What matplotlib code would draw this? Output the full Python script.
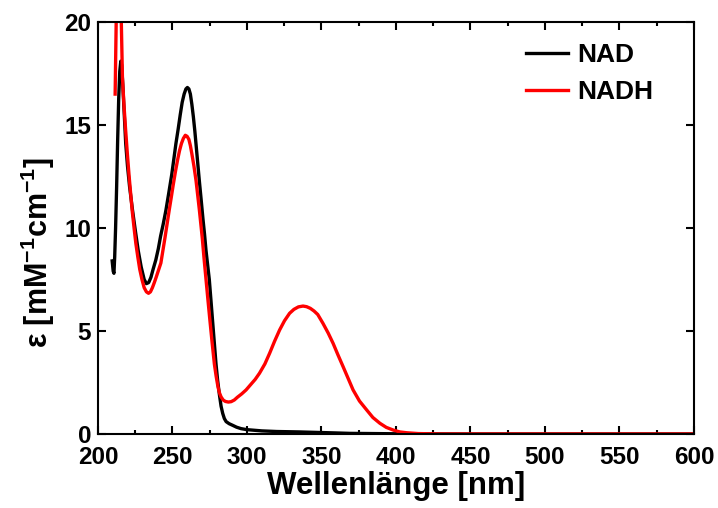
import matplotlib
matplotlib.use("Agg")
import matplotlib.pyplot as plt
from matplotlib.ticker import MultipleLocator

plt.rcParams['font.family'] = ['Liberation Sans', 'DejaVu Sans']
plt.rcParams['font.weight'] = 'bold'
plt.rcParams['mathtext.fontset'] = 'custom'
plt.rcParams['mathtext.bf'] = 'Liberation Sans:bold'
plt.rcParams['mathtext.rm'] = 'Liberation Sans:bold'
plt.rcParams['mathtext.default'] = 'bf'

# NAD (black)
nad_wl = [209.5, 210.2, 210.7, 211.2, 211.8, 212.5, 213.2, 213.9, 214.6, 215.3,
          215.9, 216.6, 217.5, 218.6, 219.8, 221.2, 223.1, 225.0, 227.0, 229.0,
          231.0, 232.5, 234.0, 235.5, 237.0, 238.8, 240.5, 242.0, 243.8, 245.6,
          247.5, 249.5, 251.0, 252.3, 253.8, 255.2, 256.5, 257.8, 259.0, 260.0,
          261.0, 262.0, 263.0, 264.0, 265.0, 266.0, 267.0, 268.0, 269.2, 270.5,
          271.5, 272.5, 273.6, 274.7, 275.8, 277.0, 278.1, 279.2, 280.3, 281.5,
          282.6, 283.7, 284.8, 286.0, 288.0, 290.4, 293.0, 296.0, 300.0, 305.0,
          310.0, 320.0, 335.0, 350.0, 360.0, 369.0, 385.0, 400.0, 450.0, 600.0]
nad_eps = [8.4, 7.9, 7.8, 8.6, 10.0, 12.0, 14.3, 16.3, 17.6, 18.1,
           17.9, 17.0, 15.7, 14.1, 13.0, 12.0, 10.9, 9.9, 8.9, 8.1,
           7.5, 7.3, 7.35, 7.6, 8.0, 8.45, 9.0, 9.6, 10.2, 10.87,
           11.7, 12.6, 13.4, 14.1, 14.8, 15.5, 16.1, 16.5, 16.75, 16.82,
           16.75, 16.5, 16.0, 15.4, 14.7, 13.9, 13.1, 12.3, 11.4, 10.4,
           9.7, 8.9, 8.2, 7.5, 6.5, 5.4, 4.4, 3.4, 2.6, 1.9,
           1.35, 1.0, 0.75, 0.6, 0.5, 0.42, 0.33, 0.26, 0.21, 0.18,
           0.15, 0.12, 0.1, 0.07, 0.05, 0.03, 0.02, 0.01, 0.0, 0.0]

# NADH (red)
nadh_wl = [211.5, 211.9, 212.3, 212.8, 213.5, 214.3, 215.0, 215.7, 216.4, 217.4,
           218.5, 219.7, 220.9, 222.0, 223.0, 224.2, 225.4, 226.7, 228.0, 229.5,
           231.0, 232.5, 233.9, 235.2, 236.5, 237.8, 239.0, 240.6, 242.2, 245.0,
           247.8, 249.2, 250.5, 252.0, 253.4, 254.7, 256.0, 257.3, 258.6, 259.8,
           261.0, 262.0, 263.0, 264.4, 265.8, 266.9, 268.0, 269.0, 270.0, 271.2,
           272.5, 273.8, 275.0, 276.5, 278.1, 279.3, 280.5, 281.5, 282.6, 284.0,
           285.5, 287.5, 289.4, 291.5, 293.5, 296.5, 299.4, 302.5, 305.5, 308.4,
           312.0, 315.2, 318.5, 321.9, 325.2, 328.6, 331.5, 334.5, 337.6, 340.0,
           342.5, 345.0, 347.5, 351.0, 354.5, 357.8, 361.0, 364.5, 368.0, 371.2,
           375.5, 380.3, 384.5, 389.2, 393.5, 398.2, 402.5, 407.2, 415.0, 430.0,
           600.0]
nadh_eps = [16.5, 18.5, 20.5, 21.8, 22.3, 22.3, 21.5, 19.8, 17.3, 16.0,
            14.8, 13.6, 12.5, 11.6, 10.8, 10.0, 9.25, 8.6, 8.0, 7.5,
            7.1, 6.9, 6.83, 6.9, 7.1, 7.35, 7.6, 7.95, 8.3, 9.55,
            10.87, 11.5, 12.1, 12.75, 13.3, 13.75, 14.1, 14.35, 14.5, 14.45,
            14.3, 14.0, 13.6, 13.0, 12.3, 11.6, 10.9, 10.2, 9.5, 8.5,
            7.5, 6.5, 5.6, 4.5, 3.4, 2.8, 2.3, 2.0, 1.8, 1.65,
            1.58, 1.55, 1.57, 1.65, 1.78, 1.95, 2.14, 2.4, 2.65, 2.95,
            3.4, 3.92, 4.5, 5.05, 5.5, 5.86, 6.05, 6.17, 6.21, 6.18,
            6.1, 5.97, 5.8, 5.37, 4.9, 4.4, 3.85, 3.27, 2.68, 2.14,
            1.6, 1.17, 0.8, 0.52, 0.32, 0.19, 0.1, 0.06, 0.02, 0.0,
            0.0]

x_ticks = [200, 250, 300, 350, 400, 450, 500, 550, 600]
y_ticks = [0, 5, 10, 15, 20]

fig = plt.figure(figsize=(7.18, 5.08), dpi=100)
ax = fig.add_axes([0.1365, 0.1457, 0.830, 0.811])

ax.plot(nad_wl, nad_eps, color='black', lw=2.4, label='NAD')
ax.plot(nadh_wl, nadh_eps, color='#ff0000', lw=2.4, label='NADH')

ax.set_xlim(200, 600)
ax.set_ylim(0, 20)
ax.set_xticks(x_ticks)
ax.set_yticks(y_ticks)
ax.xaxis.set_minor_locator(MultipleLocator(25))
ax.tick_params(which='both', direction='in', top=True, right=True, width=1.5)
ax.tick_params(which='major', length=6, labelsize=17.5)
ax.tick_params(axis='x', which='major', pad=9)
ax.tick_params(axis='y', which='major', pad=5)
ax.tick_params(which='minor', length=3)
for lab in ax.get_xticklabels() + ax.get_yticklabels():
    lab.set_fontweight('bold')
for sp in ax.spines.values():
    sp.set_linewidth(1.5)

ax.set_xlabel('Wellenlänge [nm]', fontsize=22.5, fontweight='bold', labelpad=1)
ax.set_ylabel(r'ε [mM$^{-1}$cm$^{-1}$]', fontsize=22, fontweight='bold')
ax.yaxis.set_label_coords(-0.068, 0.44)

leg = ax.legend(loc='upper left', bbox_to_anchor=(0.678, 1.007), frameon=False,
                fontsize=19, handlelength=1.6, handletextpad=0.35, labelspacing=0.5)
for t in leg.get_texts():
    t.set_fontweight('bold')

fig.savefig('out.png', dpi=100)
